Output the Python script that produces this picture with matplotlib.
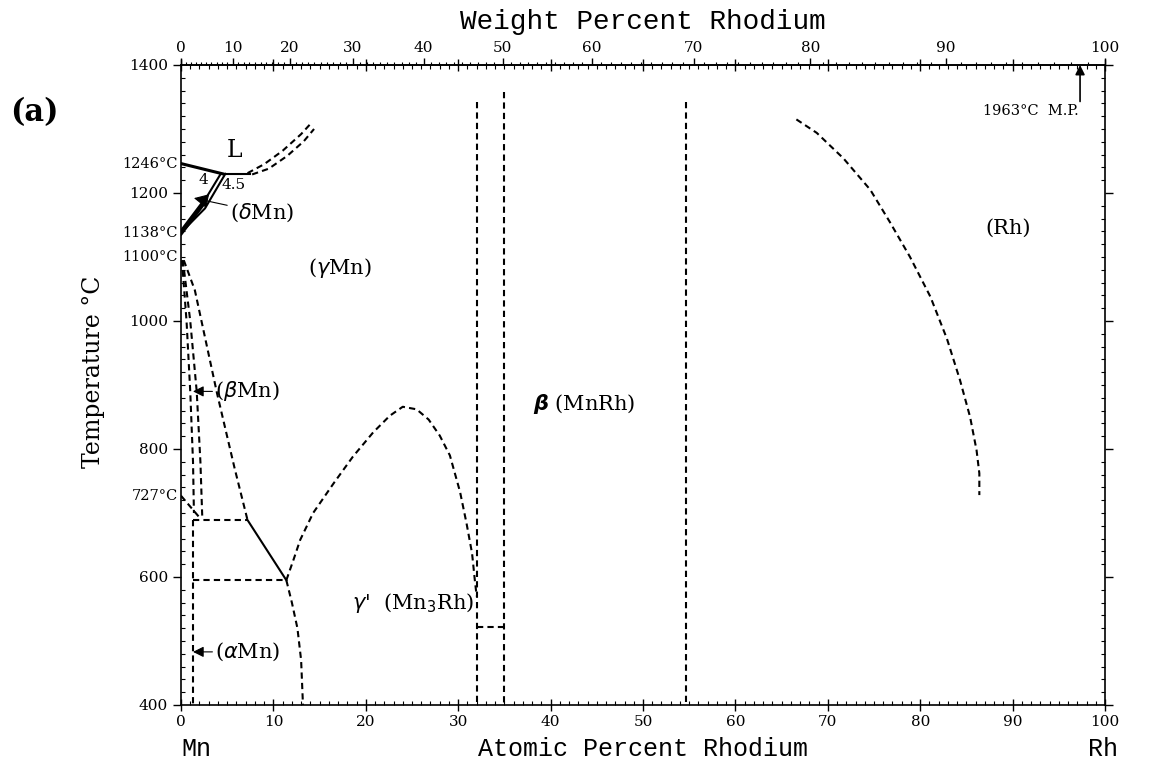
import matplotlib
matplotlib.use("Agg")
from matplotlib import pyplot as plt
from matplotlib.ticker import MultipleLocator, FixedLocator
import numpy as np

matplotlib.rcParams.update({
    'font.family': 'DejaVu Serif',
    'axes.linewidth': 1.2,
})

M_MN = 54.938
M_RH = 102.906

# --- phase boundaries (atomic % Rh, temperature C) ---
liq_delta_x = [0, 4.5]
liq_delta_T = [1246, 1230]
peritectic_x = [4.5, 7.5]
peritectic_T = [1230, 1230]
liq_upper_x = [7.2, 9.0, 11.0, 13.0, 14.2]
liq_upper_T = [1231, 1245, 1266, 1292, 1311]
liq_lower_x = [7.7, 9.5, 11.5, 13.3, 14.4]
liq_lower_T = [1229, 1238, 1258, 1281, 1300]
delta_left_x = [0, 2.2, 4.3]
delta_left_T = [1138, 1180, 1230]
delta_right_x = [0, 2.6, 4.8]
delta_right_T = [1138, 1176, 1230]

beta_left_x = [0.1, 0.6, 1.0, 1.3, 1.4]
beta_left_T = [1095, 1000, 890, 780, 700]
beta_right_x = [0.2, 1.0, 1.7, 2.1, 2.3]
beta_right_T = [1095, 1000, 890, 780, 694]
gamma_beta_x = [0.3, 1.5, 3.9, 5.8, 7.2]
gamma_beta_T = [1095, 1048, 887, 770, 689]
alpha_beta_x = [0, 2.0]
alpha_beta_T = [727, 693]
alpha_x = [1.3, 1.3]
alpha_T = [689, 400]
eutectoid_x = [1.3, 7.2]
eutectoid_T = [689, 689]
solid_seg_x = [7.2, 11.4]
solid_seg_T = [689, 595]
lower_iso_x = [1.3, 11.4]
lower_iso_T = [595, 595]

gp_left_x = [11.4, 12.0, 12.6, 13.0, 13.2]
gp_left_T = [595, 560, 520, 470, 400]
dome_x = [11.4, 12.2, 12.9, 14.3, 16.5, 18.6, 20.8, 22.6, 24.0, 25.5, 26.8, 28.0,
          29.1, 30.2, 30.9, 31.5, 31.8, 32.0]
dome_T = [595, 628, 658, 700, 746, 788, 826, 852, 866, 862, 846, 821,
          790, 733, 684, 637, 595, 570]

vert1_x = [32.0, 32.0]
vert1_T = [1342, 400]
vert2_x = [35.0, 35.0]
vert2_T = [1358, 400]
vert3_x = [54.7, 54.7]
vert3_T = [1342, 400]
iso522_x = [32.0, 35.0]
iso522_T = [522, 522]

rh_x = [66.6, 68.8, 71.7, 74.6, 76.7, 78.9, 81.1, 82.9, 84.3, 85.4, 86.1, 86.4, 86.4]
rh_T = [1315, 1294, 1254, 1205, 1155, 1100, 1038, 972, 908, 850, 798, 762, 728]

wt_ticks = [0, 10, 20, 30, 40, 50, 60, 70, 80, 90, 100]
special_T = [1246, 1138, 1100, 727]


def at_to_wt(a):
    a = np.asarray(a, dtype=float)
    return 100 * a * M_RH / (a * M_RH + (100 - a) * M_MN)


def wt_to_at(w):
    w = np.asarray(w, dtype=float)
    return 100 * (w / M_RH) / (w / M_RH + (100 - w) / M_MN)


fig = plt.figure(figsize=(11.49, 7.67), dpi=100)
ax = fig.add_axes([181 / 1149, 1 - 705 / 767, 924 / 1149, 640 / 767])
ax.set_xlim(0, 100)
ax.set_ylim(400, 1400)

dash = dict(color='k', lw=1.5, ls=(0, (3, 2)))
solid = dict(color='k', lw=1.5)

ax.plot(liq_delta_x, liq_delta_T, color='k', lw=2.2)
ax.plot(peritectic_x, peritectic_T, **solid)
ax.plot(liq_upper_x, liq_upper_T, **dash)
ax.plot(liq_lower_x, liq_lower_T, **dash)
ax.plot(delta_left_x, delta_left_T, **solid)
ax.plot(delta_right_x, delta_right_T, **solid)
ax.plot(delta_left_x[:2], delta_left_T[:2], color='k', lw=3.5)

for xs, ts in [(beta_left_x, beta_left_T), (beta_right_x, beta_right_T),
               (gamma_beta_x, gamma_beta_T), (alpha_beta_x, alpha_beta_T),
               (alpha_x, alpha_T), (eutectoid_x, eutectoid_T),
               (lower_iso_x, lower_iso_T), (gp_left_x, gp_left_T),
               (dome_x, dome_T), (vert1_x, vert1_T), (vert2_x, vert2_T),
               (vert3_x, vert3_T), (iso522_x, iso522_T), (rh_x, rh_T)]:
    ax.plot(xs, ts, **dash)
ax.plot(solid_seg_x, solid_seg_T, **solid)

# --- ticks ---
ax.set_xticks(range(0, 101, 10))
ax.xaxis.set_minor_locator(MultipleLocator(1))
ax.set_yticks(range(400, 1401, 200))
ax.yaxis.set_minor_locator(MultipleLocator(20))
ax.tick_params(axis='x', which='major', direction='inout', length=8, width=1, top=True,
               labelsize=11, pad=3)
ax.tick_params(axis='x', which='minor', direction='in', length=3, width=0.8, top=True)
ax.tick_params(axis='y', which='major', direction='out', length=6, width=1, right=True,
               labelsize=11)
ax.tick_params(axis='y', which='minor', direction='in', length=3, width=0.8, right=True)

secax = ax.secondary_xaxis('top', functions=(at_to_wt, wt_to_at))
secax.set_xticks(wt_ticks)
secax.xaxis.set_minor_locator(FixedLocator(range(0, 101, 1)))
secax.tick_params(which='major', direction='out', length=5, width=1, labelsize=11, pad=2)
secax.tick_params(which='minor', direction='out', length=2.5, width=0.8)
secax.set_xlabel('Weight Percent Rhodium', family='Liberation Mono', fontsize=20, labelpad=9)

ax.set_xlabel('Atomic Percent Rhodium', family='Liberation Mono', fontsize=18, labelpad=6)
ax.set_ylabel('Temperature °C', fontsize=17)
ax.yaxis.set_label_coords(-0.082, 0.52)

tr = ax.get_yaxis_transform()
for t in special_T:
    ax.text(-0.003, t, '%d°C' % t, transform=tr, ha='right', va='center', fontsize=10.5)

ax.text(0.0, -0.068, 'Mn', transform=ax.transAxes, family='Liberation Mono', fontsize=18,
        ha='left', va='center')
ax.text(0.982, -0.068, 'Rh', transform=ax.transAxes, family='Liberation Mono', fontsize=18,
        ha='left', va='center')
fig.text(10 / 1149, 1 - 113 / 767, '(a)', fontsize=22, fontweight='bold', va='center')

# --- region labels ---
ax.text(5.8, 1267, 'L', fontsize=17, ha='center', va='center')
ax.text(17.2, 1083, r'($\gamma$Mn)', fontsize=15, ha='center', va='center')
ax.text(38.1, 870, r'$\boldsymbol{\beta}$ (MnRh)', fontsize=15, ha='left', va='center')
ax.text(18.5, 559, r"$\gamma$'  (Mn$_3$Rh)", fontsize=15, ha='left', va='center')
ax.text(87.0, 1145, '(Rh)', fontsize=15, ha='left', va='center')
ax.text(2.4, 1221, '4', fontsize=11, ha='center', va='center')
ax.text(5.7, 1212, '4.5', fontsize=11, ha='center', va='center')

arrow = dict(arrowstyle='-|>', color='k', lw=0.8, mutation_scale=16, shrinkA=0, shrinkB=0)
ax.annotate(r'($\beta$Mn)', xy=(1.3, 890), xytext=(3.7, 890), fontsize=15,
            va='center', ha='left', arrowprops=arrow)
ax.annotate(r'($\alpha$Mn)', xy=(1.3, 483), xytext=(3.7, 483), fontsize=15,
            va='center', ha='left', arrowprops=arrow)
ax.annotate(r'($\delta$Mn)', xy=(1.4, 1192), xytext=(5.3, 1169), fontsize=15,
            va='center', ha='left',
            arrowprops=dict(arrowstyle='-|>', color='k', lw=0.8, mutation_scale=22,
                            shrinkA=0, shrinkB=0))
ax.text(92.0, 1328, '1963°C  M.P.', fontsize=10.5, ha='center', va='center')
ax.annotate('', xy=(97.3, 1400), xytext=(97.3, 1343),
            arrowprops=dict(arrowstyle='-|>', color='k', lw=1.2, mutation_scale=14,
                            shrinkA=0, shrinkB=0))

plt.savefig('out.png', dpi=100)
